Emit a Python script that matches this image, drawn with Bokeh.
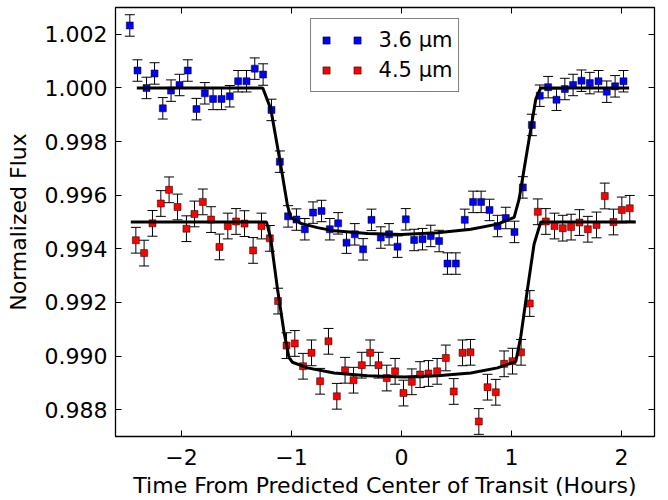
from bokeh.plotting import figure
from bokeh.models import (ColumnDataSource, Range1d, LinearAxis, FixedTicker,
                          Whisker, TeeHead, Legend, LegendItem, CustomJSTickFormatter)
from bokeh.embed import file_html
from bokeh.resources import INLINE

# ---------------- data ----------------
blue_time = [-2.470, -2.400, -2.318, -2.245, -2.170, -2.095, -2.018, -1.943, -1.864, -1.788,
             -1.713, -1.636, -1.561, -1.485, -1.409, -1.334, -1.258, -1.182, -1.106, -1.031,
             -0.955, -0.879, -0.804, -0.727, -0.652, -0.576, -0.500, -0.425, -0.349, -0.273,
             -0.188, -0.113, -0.036, 0.039, 0.115, 0.191, 0.266, 0.342, 0.418, 0.494,
             0.575, 0.651, 0.724, 0.800, 0.873, 0.948, 1.027, 1.103, 1.185, 1.257,
             1.333, 1.409, 1.485, 1.560, 1.636, 1.712, 1.791, 1.866, 1.942, 2.018]
blue_flux = [1.00233, 1.00065, 1.00000, 1.00054, 0.99924, 0.99990, 1.00011, 1.00065, 0.99921, 0.99980,
             0.99959, 0.99959, 0.99969, 1.00025, 1.00025, 1.00072, 1.00050, 0.99918, 0.99725, 0.99521,
             0.99509, 0.99473, 0.99535, 0.99541, 0.99473, 0.99495, 0.99423, 0.99454, 0.99398, 0.99508,
             0.99442, 0.99454, 0.99408, 0.99510, 0.99433, 0.99436, 0.99448, 0.99429, 0.99345, 0.99345,
             0.99508, 0.99575, 0.99575, 0.99545, 0.99485, 0.99515, 0.99463, 0.99629, 0.99862, 0.99971,
             1.00003, 0.99956, 0.99996, 1.00011, 1.00027, 1.00018, 1.00025, 0.99986, 1.00006, 1.00025]
blue_err = 0.00040

red_time = [-2.415, -2.340, -2.264, -2.188, -2.113, -2.036, -1.955, -1.882, -1.806, -1.731,
            -1.655, -1.579, -1.504, -1.427, -1.349, -1.273, -1.197, -1.122, -1.045, -0.970,
            -0.895, -0.818, -0.740, -0.664, -0.588, -0.513, -0.436, -0.361, -0.285, -0.209,
            -0.134, -0.058, 0.018, 0.094, 0.169, 0.245, 0.324, 0.403, 0.475, 0.555,
            0.627, 0.703, 0.782, 0.857, 0.933, 1.009, 1.087, 1.166, 1.239, 1.312,
            1.391, 1.466, 1.542, 1.618, 1.694, 1.773, 1.848, 1.927, 2.003, 2.075]
red_flux = [0.99432, 0.99384, 0.99495, 0.99569, 0.99620, 0.99556, 0.99475, 0.99530, 0.99575, 0.99509,
            0.99407, 0.99485, 0.99502, 0.99494, 0.99394, 0.99485, 0.99439, 0.99205, 0.99039, 0.99047,
            0.98962, 0.99012, 0.98906, 0.99055, 0.98850, 0.98947, 0.98910, 0.98966, 0.99012, 0.98966,
            0.98918, 0.98943, 0.98862, 0.98904, 0.98931, 0.98935, 0.98943, 0.98993, 0.98868, 0.99012,
            0.99014, 0.98756, 0.98884, 0.98865, 0.98971, 0.98981, 0.99014, 0.99196, 0.99538, 0.99502,
            0.99485, 0.99477, 0.99481, 0.99498, 0.99473, 0.99489, 0.99597, 0.99500, 0.99545, 0.99551]
red_err = 0.00048

blue_model_time = [-2.406, -1.261, -1.188, -1.097, -1.036, -1.006, -0.915, -0.764, -0.613, -0.309,
                   0.000, 0.327, 0.630, 0.873, 1.024, 1.069, 1.145, 1.221, 1.266, 2.069]
blue_model_flux = [1.00000, 1.00000, 0.99921, 0.99710, 0.99560, 0.99517, 0.99495, 0.99479, 0.99467, 0.99457,
                   0.99453, 0.99460, 0.99473, 0.99492, 0.99517, 0.99585, 0.99772, 0.99959, 1.00000, 1.00000]

red_model_time = [-2.461, -1.227, -1.188, -1.127, -1.067, -1.022, -0.991, -0.855, -0.613, -0.309,
                  0.024, 0.327, 0.630, 0.873, 1.039, 1.085, 1.145, 1.205, 1.266, 2.130]
red_model_flux = [0.99500, 0.99500, 0.99436, 0.99249, 0.99087, 0.98993, 0.98977, 0.98956, 0.98937, 0.98927,
                  0.98922, 0.98927, 0.98937, 0.98956, 0.98980, 0.99074, 0.99249, 0.99417, 0.99500, 0.99500]

x_ticks = [-2, -1, 0, 1, 2]
x_tick_labels = ["\u22122", "\u22121", "0", "1", "2"]
y_ticks = [0.988, 0.990, 0.992, 0.994, 0.996, 0.998, 1.000, 1.002]
y_tick_labels = ["0.988", "0.990", "0.992", "0.994", "0.996", "0.998", "1.000", "1.002"]
series_labels = ["3.6 \u03bcm", "4.5 \u03bcm"]
x_label = "Time From Predicted Center of Transit (Hours)"
y_label = "Normalized Flux"

FONT = "DejaVu Sans"
FS = "22px"

# ---------------- figure ----------------
p = figure(width=668, height=500, output_backend="svg", toolbar_location=None,
           x_range=Range1d(-2.6, 2.3), y_range=Range1d(0.987, 1.003),
           min_border_left=115, min_border_right=14, min_border_top=7, min_border_bottom=0)
p.background_fill_color = "white"
p.border_fill_color = "white"
p.outline_line_color = "black"
p.outline_line_width = 1.3
p.xgrid.visible = False
p.ygrid.visible = False


def style_axis(ax, ticks, labels=None):
    ax.ticker = FixedTicker(ticks=ticks)
    ax.axis_line_color = None
    ax.major_tick_in = 6
    ax.major_tick_out = 0
    ax.major_tick_line_color = "black"
    ax.major_tick_line_width = 1
    ax.minor_tick_line_color = None
    if labels is not None:
        ax.major_label_overrides = {t: s for t, s in zip(ticks, labels)}
        ax.major_label_text_font = FONT
        ax.major_label_text_font_size = FS
        ax.major_label_text_color = "black"
        ax.axis_label_text_font = FONT
        ax.axis_label_text_font_size = FS
        ax.axis_label_text_font_style = "normal"
        ax.axis_label_text_color = "black"
    else:
        ax.formatter = CustomJSTickFormatter(code="return ''")
        ax.major_label_text_font_size = "0px"
        ax.major_label_standoff = 0
        ax.axis_label = None


style_axis(p.xaxis[0], x_ticks, x_tick_labels)
p.xaxis[0].axis_label = x_label
p.xaxis[0].major_label_standoff = 12
p.xaxis[0].axis_label_standoff = 5

style_axis(p.yaxis[0], y_ticks, y_tick_labels)
p.yaxis[0].axis_label = y_label
p.yaxis[0].major_label_standoff = 8
p.yaxis[0].axis_label_standoff = 11

top_ax = LinearAxis()
style_axis(top_ax, x_ticks)
p.add_layout(top_ax, "above")
right_ax = LinearAxis()
style_axis(right_ax, y_ticks)
p.add_layout(right_ax, "right")

# ---------------- data marks ----------------
src_b = ColumnDataSource(dict(t=blue_time, f=blue_flux,
                              lo=[v - blue_err for v in blue_flux],
                              hi=[v + blue_err for v in blue_flux]))
src_r = ColumnDataSource(dict(t=red_time, f=red_flux,
                              lo=[v - red_err for v in red_flux],
                              hi=[v + red_err for v in red_flux]))

for src in (src_b, src_r):
    w = Whisker(source=src, base="t", lower="lo", upper="hi", dimension="height",
                line_color="black", line_width=1, level="underlay",
                upper_head=TeeHead(size=10, line_color="black", line_width=1),
                lower_head=TeeHead(size=10, line_color="black", line_width=1))
    p.add_layout(w)

rb = p.scatter("t", "f", source=src_b, marker="square", size=7,
               fill_color="#0000ff", line_color="black", line_width=0.5)
rr = p.scatter("t", "f", source=src_r, marker="square", size=7,
               fill_color="#ff0000", line_color="black", line_width=0.5)

p.line(blue_model_time, blue_model_flux, line_color="black", line_width=3)
p.line(red_model_time, red_model_flux, line_color="black", line_width=3)

# ---------------- legend ----------------
legend = Legend(items=[LegendItem(label="", renderers=[rb]),
                       LegendItem(label=series_labels[0], renderers=[rb]),
                       LegendItem(label="", renderers=[rr]),
                       LegendItem(label=series_labels[1], renderers=[rr])],
                orientation="horizontal", ncols=2, location="top_center",
                margin=11, padding=6, spacing=0,
                glyph_width=18, glyph_height=30, label_standoff=13,
                label_width=0, label_height=20,
                label_text_font=FONT, label_text_font_size="21px", label_text_color="black",
                border_line_color="black", border_line_width=1.3,
                background_fill_color="white", background_fill_alpha=1.0)
p.add_layout(legend)

open("out.html", "w").write(file_html(p, INLINE))
